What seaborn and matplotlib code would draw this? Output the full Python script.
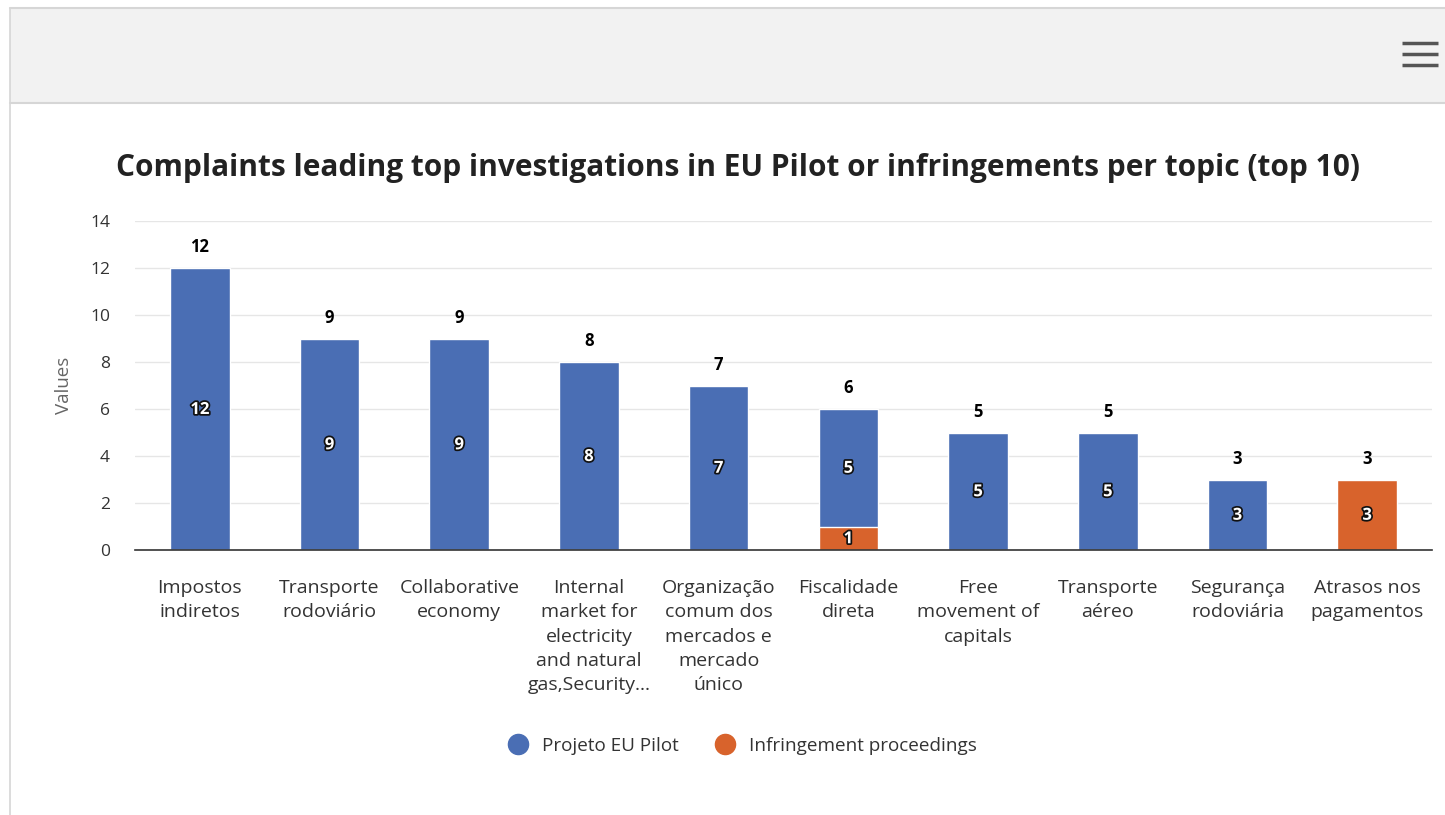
import matplotlib
matplotlib.use("Agg")
import matplotlib.pyplot as plt
import matplotlib.patheffects as pe
from matplotlib.lines import Line2D
from matplotlib.patches import Rectangle
import seaborn as sns
import pandas as pd

categories = [
    "Impostos\nindiretos",
    "Transporte\nrodoviário",
    "Collaborative\neconomy",
    "Internal\nmarket for\nelectricity\nand natural\ngas,Security…",
    "Organização\ncomum dos\nmercados e\nmercado\núnico",
    "Fiscalidade\ndireta",
    "Free\nmovement of\ncapitals",
    "Transporte\naéreo",
    "Segurança\nrodoviária",
    "Atrasos nos\npagamentos",
]
eu_pilot = [12, 9, 9, 8, 7, 5, 5, 5, 3, 0]
infringement = [0, 0, 0, 0, 0, 1, 0, 0, 0, 3]
series_names = ["Projeto EU Pilot", "Infringement proceedings"]
title = "Complaints leading top investigations in EU Pilot or infringements per topic (top 10)"

BLUE = "#4a6eb4"
ORANGE = "#d8632c"
TXT = "#333333"

sns.set_theme(style="white")
plt.rcParams["font.family"] = ["Open Sans", "DejaVu Sans"]

W, H = 1445, 815
fig = plt.figure(figsize=(W / 100, H / 100), dpi=100)

# page frame / header
fig.patches.append(Rectangle((10 / W, 1 - 103 / H), 1, 96 / H, transform=fig.transFigure,
                             facecolor="#f2f2f2", edgecolor="none", zorder=0))
fig.add_artist(Line2D([10 / W, 1], [1 - 7.5 / H] * 2, transform=fig.transFigure, color="#d6d6d6", lw=1.5))
fig.add_artist(Line2D([10 / W, 1], [1 - 103 / H] * 2, transform=fig.transFigure, color="#d6d6d6", lw=1.5))
fig.add_artist(Line2D([10 / W] * 2, [0, 1 - 7.5 / H], transform=fig.transFigure, color="#d6d6d6", lw=1.2))
for yy in (43, 54, 65):
    fig.add_artist(Line2D([1402 / W, 1438 / W], [1 - yy / H] * 2, transform=fig.transFigure,
                          color="#555555", lw=2.5, solid_capstyle="butt"))

ax = fig.add_axes([135 / W, 1 - 550 / H, (1432 - 135) / W, (550 - 221) / H])

totals = [a + b for a, b in zip(eu_pilot, infringement)]
df_tot = pd.DataFrame({"cat": categories, "val": totals})
df_inf = pd.DataFrame({"cat": categories, "val": infringement})

sns.barplot(data=df_tot, x="cat", y="val", color=BLUE, saturation=1, width=0.46,
            edgecolor="white", linewidth=1, ax=ax, zorder=3)
sns.barplot(data=df_inf, x="cat", y="val", color=ORANGE, saturation=1, width=0.46,
            edgecolor="white", linewidth=1, ax=ax, zorder=4)

ax.set_ylim(0, 14)
ax.set_xlim(-0.5, len(categories) - 0.5)
ax.set_yticks(range(0, 15, 2))
for v in range(2, 15, 2):
    ax.axhline(v, color="#e6e6e6", lw=1, zorder=1)
for s in ["top", "right", "left"]:
    ax.spines[s].set_visible(False)
ax.spines["bottom"].set_color("#333333")
ax.spines["bottom"].set_linewidth(1.2)
ax.spines["bottom"].set_zorder(5)
ax.tick_params(axis="y", length=0, pad=18, labelsize=12.5, labelcolor=TXT)
ax.tick_params(axis="x", length=0, pad=21, labelsize=14, labelcolor=TXT)
for lab in ax.get_xticklabels():
    lab.set_linespacing(1.45)
    lab.set_verticalalignment("top")
ax.set_xlabel("")
ax.set_ylabel("Values", fontsize=13.5, color="#666666", labelpad=12)

stroke = [pe.withStroke(linewidth=2.5, foreground="#111111")]
for i, (b, o) in enumerate(zip(eu_pilot, infringement)):
    t = b + o
    ax.text(i, t + 0.5, str(t), ha="center", va="bottom", fontsize=12, fontweight="bold", color="black")
    if b > 0:
        ax.text(i, o + b / 2, str(b), ha="center", va="center", fontsize=12, fontweight="bold",
                color="white", path_effects=stroke, zorder=6)
    if o > 0:
        ax.text(i, o / 2, str(o), ha="center", va="center", fontsize=12, fontweight="bold",
                color="white", path_effects=stroke, zorder=6)

fig.text(738 / W, 1 - 168 / H, title, ha="center", va="center", fontsize=21.5,
         fontweight="bold", color="#222222")

handles = [Line2D([], [], marker="o", ls="", markersize=14.5, color=BLUE),
           Line2D([], [], marker="o", ls="", markersize=14.5, color=ORANGE)]
fig.legend(handles, series_names, loc="center", bbox_to_anchor=(738 / W, 1 - 746 / H), ncol=2,
           frameon=False, fontsize=13.6, handletextpad=0.3, columnspacing=1.4, labelcolor=TXT)

fig.savefig("out.png", dpi=100)
